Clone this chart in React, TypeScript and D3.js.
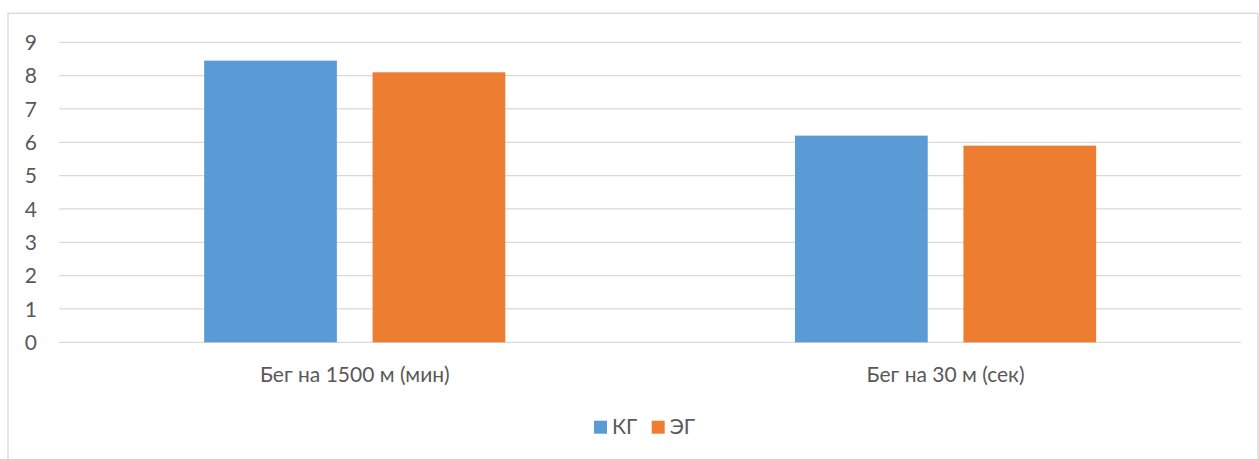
import React from "react";
import * as d3 from "d3";

const categories = ["Бег на 1500 м (мин)", "Бег на 30 м (сек)"];
const seriesNames = ["КГ", "ЭГ"];
const kgValues = [8.45, 6.2];
const egValues = [8.1, 5.9];
const yTicks = [0, 1, 2, 3, 4, 5, 6, 7, 8, 9];

const colors = ["#5B9BD5", "#ED7D31"];
const W = 1259;
const H = 459;
const FONT = "Lato, 'Open Sans', sans-serif";
const TEXT = "#595959";
const FS = 21;

export default function App() {
  const plotLeft = 59.3;
  const plotRight = 1241;
  const y = d3.scaleLinear().domain([0, 9]).range([342.3, 42.3]);
  const x0 = d3.scaleBand<string>().domain(categories).range([plotLeft, plotRight]).padding(0);
  const x1 = d3
    .scaleBand<string>()
    .domain(seriesNames)
    .range([0, x0.bandwidth()])
    .paddingInner(0.212)
    .paddingOuter(0.86);

  const rows = categories.map((c, i) => ({ c, vals: [kgValues[i], egValues[i]] }));

  return (
    <svg
      width={W}
      height={H}
      style={{ position: "absolute", left: 0, top: 0, background: "#fff" }}
    >
      <rect x={8} y={13.3} width={1250} height={460} fill="#fff" stroke="#d9d9d9" strokeWidth={1.3} />
      {yTicks.map((t) => (
        <g key={t}>
          <line x1={plotLeft} x2={plotRight} y1={y(t)} y2={y(t)} stroke="#d9d9d9" strokeWidth={1.3} />
          <text
            x={37}
            y={y(t)}
            dy="0.36em"
            textAnchor="end"
            fontFamily={FONT}
            fontSize={FS}
            fill={TEXT}
          >
            {t}
          </text>
        </g>
      ))}
      {rows.map((r) => (
        <g key={r.c} transform={`translate(${x0(r.c)},0)`}>
          {r.vals.map((v, j) => (
            <rect
              key={j}
              x={x1(seriesNames[j])}
              y={y(v)}
              width={x1.bandwidth()}
              height={y(0) - y(v)}
              fill={colors[j]}
            />
          ))}
          <text
            x={x0.bandwidth() / 2}
            y={382}
            textAnchor="middle"
            fontFamily={FONT}
            fontSize={FS}
            fill={TEXT}
          >
            {r.c}
          </text>
        </g>
      ))}
      <g>
        {seriesNames.map((s, j) => {
          const lx = 594 + j * 57.7;
          return (
            <g key={s}>
              <rect x={lx} y={420.7} width={13} height={13} fill={colors[j]} />
              <text x={lx + 18} y={434} fontFamily={FONT} fontSize={FS} fill={TEXT}>
                {s}
              </text>
            </g>
          );
        })}
      </g>
    </svg>
  );
}
